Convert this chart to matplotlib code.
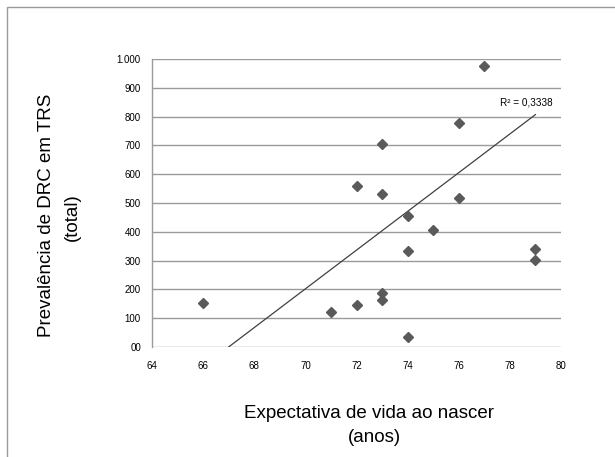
import matplotlib
matplotlib.use("Agg")
import matplotlib.pyplot as plt
from matplotlib.patches import Rectangle

plt.rcParams['font.family'] = ['Liberation Sans', 'DejaVu Sans']

# Data
life_expectancy = [66, 71, 72, 72, 73, 73, 73, 73, 74, 74, 74, 75, 76, 76, 77, 79, 79]
prevalence = [153, 122, 560, 146, 706, 532, 188, 164, 456, 334, 35, 407, 778, 518, 974, 341, 303]

# Trend line (as drawn in the chart)
trend_x = [66, 79]
trend_y = [-67, 807]
r2_label = "R² = 0,3338"

x_ticks = [64, 66, 68, 70, 72, 74, 76, 78, 80]
y_ticks = [0, 100, 200, 300, 400, 500, 600, 700, 800, 900, 1000]
y_tick_labels = ["00", "100", "200", "300", "400", "500", "600", "700", "800", "900", "1.000"]

fig = plt.figure(figsize=(6.15, 4.57), dpi=100)
fig.patches.append(Rectangle((7/615, -0.1), 1.2, 1 - 7/457 + 0.1, transform=fig.transFigure,
                             fill=False, edgecolor='#999999', linewidth=1.0))

ax = fig.add_axes([152/615, 1 - 347/457, (561 - 152)/615, (347 - 59)/457])
ax.set_xlim(64, 80)
ax.set_ylim(0, 1000)
ax.set_xticks(x_ticks)
ax.set_yticks(y_ticks)
ax.set_yticklabels(y_tick_labels)
ax.tick_params(length=0, labelsize=7, pad=8)
ax.tick_params(axis='x', pad=10)
for s in ['top', 'right', 'bottom']:
    ax.spines[s].set_visible(False)
ax.spines['left'].set_color('#9a9a9a')
ax.spines['left'].set_linewidth(1.0)
ax.grid(axis='y', color='#9a9a9a', linewidth=1.0)
ax.set_axisbelow(True)

ax.plot(life_expectancy, prevalence, linestyle='none', marker='D', markersize=5.3,
        color='#5a5a5a', zorder=3)
ax.plot(trend_x, trend_y, color='#404040', linewidth=0.9, zorder=2)
ax.text(79.67, 849, r2_label, fontsize=7.2, ha='right', va='center')

fig.text(47/615, 1 - 215/457, "Prevalência de DRC em TRS", rotation=90, fontsize=13.5,
         ha='center', va='center')
fig.text(72/615, 1 - 217/457, "(total)", rotation=90, fontsize=13.5, ha='center', va='center')
fig.text(369/615, 1 - 413/457, "Expectativa de vida ao nascer", fontsize=13.5,
         ha='center', va='center')
fig.text(374/615, 1 - 437/457, "(anos)", fontsize=13.5, ha='center', va='center')

fig.savefig("out.png", dpi=100)
